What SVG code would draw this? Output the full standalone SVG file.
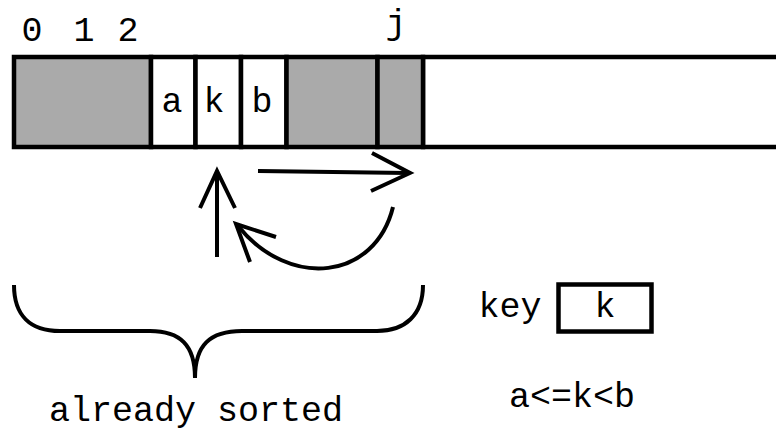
<svg xmlns="http://www.w3.org/2000/svg" width="776" height="433" viewBox="0 0 776 433">
<style>
  text { font-family: "Liberation Mono", "Courier New", monospace; font-size: 35px; fill: #000; text-anchor: middle; }
  .cell { stroke: #000; stroke-width: 4.5; }
  .gray { fill: #aaaaaa; }
  .white { fill: #ffffff; }
  .ln { fill: none; stroke: #000; stroke-width: 4; }
</style>
<rect width="776" height="433" fill="#ffffff"/>
<g id="indices">
  <text x="32" y="41">0</text>
  <text x="84" y="41">1</text>
  <text x="128" y="41">2</text>
  <text x="396" y="34">j</text>
</g>
<g id="array">
  <rect class="cell white" x="423" y="57" width="370" height="90"/>
  <rect class="cell gray" x="14" y="57" width="137" height="90"/>
  <rect class="cell white" x="151" y="57" width="44.5" height="90"/>
  <rect class="cell white" x="195.5" y="57" width="45.5" height="90"/>
  <rect class="cell white" x="241" y="57" width="45.5" height="90"/>
  <rect class="cell gray" x="286.5" y="57" width="91" height="90"/>
  <rect class="cell gray" x="377.5" y="57" width="45.5" height="90"/>
  <text x="172" y="112">a</text>
  <text x="214" y="112">k</text>
  <text x="262" y="112">b</text>
</g>
<g id="connectors">
  <path class="ln" d="M217,257 L217,172"/>
  <path class="ln" d="M200,208 L217,171 L235,208"/>
  <path class="ln" d="M258,171 L408,173"/>
  <path class="ln" d="M372,153 L410,173 L371,191"/>
  <path class="ln" d="M393,207 C375,280 290,290 238,226"/>
  <path class="ln" d="M276,237 L236,224 L250,262"/>
</g>
<g id="brace">
  <path class="ln" d="M14,285 C14,315 30,331 60,331 L150,331 C180,331 195,345 195,378 C195,345 210,331 242,331 L377,331 C405,331 423,315 423,285"/>
  <text x="196" y="421">already sorted</text>
</g>
<g id="key">
  <text x="510" y="317">key</text>
  <rect class="cell white" x="558.5" y="284.5" width="93" height="47"/>
  <text x="605" y="317">k</text>
</g>
<g id="condition">
  <text x="572" y="407">a&lt;=k&lt;b</text>
</g>
</svg>
